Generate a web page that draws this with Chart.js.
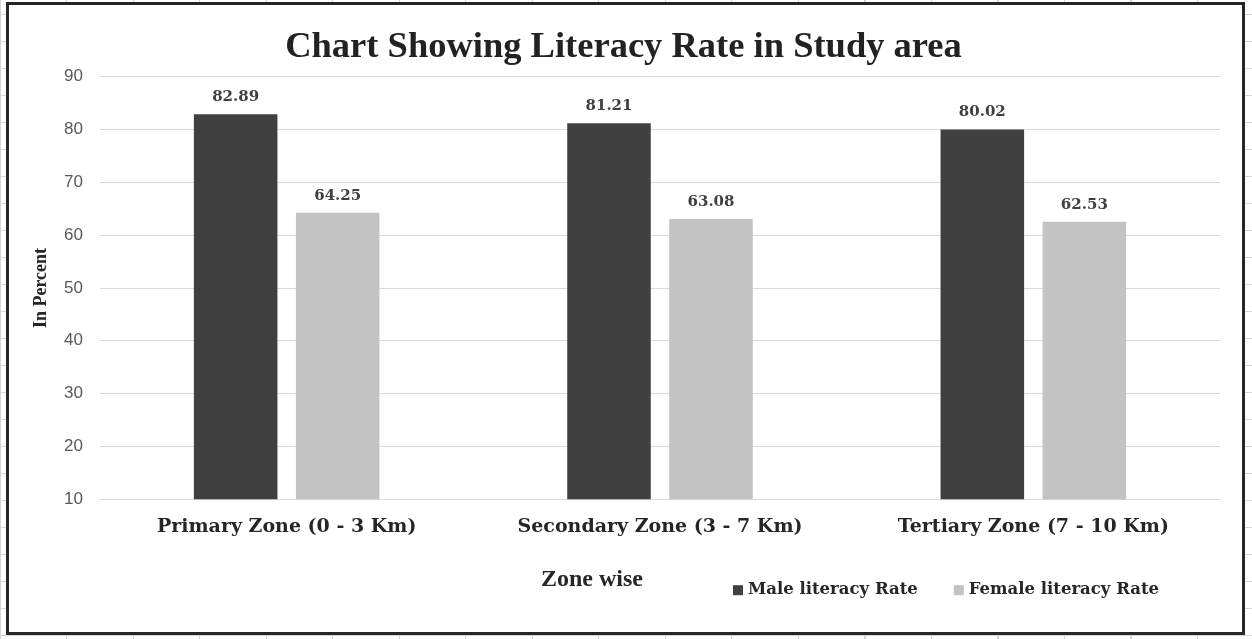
<!DOCTYPE html>
<html>
<head>
<meta charset="utf-8">
<script src="https://cdn.jsdelivr.net/npm/chart.js@4.4.0/dist/chart.umd.min.js"></script>
<style>
  html, body { margin: 0; padding: 0; }
  body {
    width: 1252px; height: 639px; position: relative; overflow: hidden;
    background-color: #fff;
    background-image:
      repeating-linear-gradient(90deg, #d6d6d6 0 1px, transparent 1px 66.5px),
      repeating-linear-gradient(180deg, transparent 0 14px, #d6d6d6 14px 15px, transparent 15px 27px);
  }
  #frame {
    position: absolute; left: 6px; top: 2px;
    width: 1233px; height: 627px;
    border: 3px solid #262626; background: #fff;
  }
  #chart { position: absolute; left: 0; top: 0; }
</style>
</head>
<body>
<div id="frame"></div>
<canvas id="chart" width="1252" height="639"></canvas>
<script>
// chart data
const categories = ['Primary Zone (0 - 3 Km)', 'Secondary Zone (3 - 7 Km)', 'Tertiary Zone (7 - 10 Km)'];
const maleRate = [82.89, 81.21, 80.02];
const femaleRate = [64.25, 63.08, 62.53];
const seriesNames = ['Male literacy Rate', 'Female literacy Rate'];
const yMin = 10;
const yMax = 90;
const yStep = 10;
const chartTitle = 'Chart Showing Literacy Rate in Study area';
const yAxisTitle = 'In Percent';
const xAxisTitle = 'Zone wise';

// value labels above each bar
const valueLabels = {
  id: 'valueLabels',
  afterDatasetsDraw(chart) {
    const ctx = chart.ctx;
    ctx.save();
    ctx.font = 'bold 15px "DejaVu Serif"';
    ctx.fillStyle = '#404040';
    ctx.textAlign = 'center';
    ctx.textBaseline = 'middle';
    chart.data.datasets.forEach((ds, i) => {
      chart.getDatasetMeta(i).data.forEach((bar, j) => {
        ctx.fillText(ds.data[j].toFixed(2), bar.x, bar.y - 17);
      });
    });
    ctx.restore();
  }
};

// x title + legend sit on their own, off-centre like the original
const bottomText = {
  id: 'bottomText',
  afterDraw(chart) {
    const { ctx, chartArea } = chart;
    ctx.save();
    ctx.textBaseline = 'middle';
    ctx.fillStyle = '#262626';
    ctx.font = 'bold 24px "Liberation Serif"';
    ctx.textAlign = 'center';
    ctx.fillText(xAxisTitle, chartArea.left + 492, chartArea.bottom + 81);

    ctx.font = 'bold 16.5px "DejaVu Serif"';
    ctx.textAlign = 'left';
    let x = chartArea.left + 633;
    const y = chartArea.bottom + 91;
    chart.data.datasets.forEach(ds => {
      ctx.fillStyle = ds.backgroundColor;
      ctx.fillRect(x, y - 5, 10, 10);
      ctx.fillStyle = '#262626';
      ctx.fillText(ds.label, x + 15, y);
      x += 15 + ctx.measureText(ds.label).width + 36;
    });
    ctx.restore();
  }
};

new Chart(document.getElementById('chart'), {
  type: 'bar',
  data: {
    labels: categories,
    datasets: [
      { label: seriesNames[0], data: maleRate, backgroundColor: '#404040' },
      { label: seriesNames[1], data: femaleRate, backgroundColor: '#c3c3c3' }
    ]
  },
  options: {
    responsive: false,
    animation: false,
    layout: { padding: { left: 27, right: 32, top: 0, bottom: 93 } },
    datasets: {
      bar: { categoryPercentage: 0.5465, barPercentage: 0.819 }
    },
    plugins: {
      legend: { display: false },
      tooltip: { enabled: false },
      title: {
        display: true,
        text: chartTitle,
        color: '#222',
        font: { family: '"Liberation Serif"', size: 36.5, weight: 'bold' },
        padding: { top: 26, bottom: 7 }
      }
    },
    scales: {
      x: {
        grid: { display: false },
        border: { display: false },
        ticks: {
          color: '#262626',
          padding: 8,
          font: { family: '"DejaVu Serif"', size: 19, weight: 'bold' }
        }
      },
      y: {
        min: yMin,
        max: yMax,
        afterFit(scale) { scale.width = 73; },
        grid: { color: '#d9d9d9', drawTicks: false },
        border: { display: false },
        ticks: {
          stepSize: yStep,
          color: '#595959',
          padding: 17,
          font: { family: '"Liberation Sans"', size: 17 }
        },
        title: {
          display: true,
          text: yAxisTitle,
          color: '#262626',
          padding: { top: 4, bottom: 4 },
          font: { family: '"Liberation Serif"', size: 18, weight: 'bold' }
        }
      }
    }
  },
  plugins: [valueLabels, bottomText]
});
</script>
</body>
</html>
